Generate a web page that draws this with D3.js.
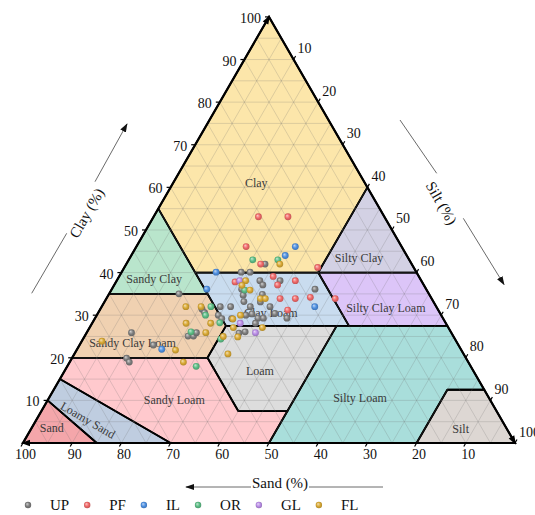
<!DOCTYPE html>
<html>
<head>
<meta charset="utf-8">
<script src="https://cdn.jsdelivr.net/npm/d3@7"></script>
<style>
  html, body { margin: 0; padding: 0; background: #ffffff; }
  svg { display: block; font-family: "Liberation Serif", "Times New Roman", serif; }
</style>
</head>
<body>
<svg id="chart" width="535" height="515"></svg>
<script>
// ---- Samples: [sand %, clay %]; silt is the remainder ----
const UP = [
  [50.8,35.0],[65.0,25.9],[62.0,23.0],[69.0,19.9],[68.9,19.0],[53.9,25.1],[52.8,25.1],[51.8,25.9],
  [35.6,40.1],[33.8,40.1],[29.8,42.0],[32.8,38.1],[28.7,38.1],[32.7,37.1],[37.5,36.1],[22.6,36.1],
  [37.9,34.7],[33.9,34.9],[38.5,33.2],[35.2,33.1],[33.8,32.0],[43.9,32.0],[41.8,32.0],[37.8,32.0],
  [47.9,31.4],[47.8,30.6],[45.3,30.0],[45.0,29.2],[43.0,29.2],[39.7,30.0],[38.3,30.3],[37.6,29.3],
  [36.5,29.3],[38.7,28.1],[41.8,26.1],[43.2,25.8],[33.6,30.4],[31.7,29.3]
];
const PF = [
  [25.6,53.1],[19.6,53.1],[31.6,46.1],[30.7,42.0],[19.5,41.2],[38.0,37.8],[29.6,39.1],
  [25.6,38.1],[29.7,37.1],[30.8,33.9],[27.7,33.9],[24.5,34.2],[19.6,33.9],[30.6,31.2]
];
const IL = [
  [21.6,46.1],[24.7,44.0],[40.7,40.1],[44.6,36.1],[60.8,22.0],[24.7,32.0]
];
const OR = [
  [31.8,43.0],[26.7,43.0],[37.0,35.9],[45.8,32.0],[47.9,30.0],[45.9,28.2],[52.8,26.1],
  [47.6,24.4],[55.8,18.0]
];
const GL = [
  [36.9,38.1],[41.8,28.1],[39.8,25.9]
];
const FL = [
  [26.8,42.0],[35.7,38.1],[37.0,37.0],[35.9,35.9],[34.8,33.9],[33.8,33.9],[50.9,32.0],
  [47.8,32.0],[52.8,28.1],[47.8,28.1],[42.8,29.1],[40.8,30.0],[43.7,27.1],[37.8,27.1],
  [49.9,25.9],[46.8,25.0],[43.9,24.9],[58.1,21.8],[72.0,23.9],[47.9,20.9],[57.9,19.0]
];

const seriesNames  = ["UP", "PF", "IL", "OR", "GL", "FL"];
const seriesData   = [UP, PF, IL, OR, GL, FL];
const seriesColors = ["#7d7d7d", "#f06868", "#4d8fe0", "#5cbd85", "#b98de6", "#d9a934"];

// ---- Axis ticks ----
const sandTicks = [100, 90, 80, 70, 60, 50, 40, 30, 20, 10];
const clayTicks = [10, 20, 30, 40, 50, 60, 70, 80, 90, 100];
const siltTicks = [10, 20, 30, 40, 50, 60, 70, 80, 90, 100];
const gridValues = d3.range(5, 100, 5);

// ---- USDA texture classes, vertices as [sand, silt, clay] ----
const classNames = ["Clay", "Sandy Clay", "Silty Clay", "Clay Loam", "Silty Clay Loam",
  "Sandy Clay Loam", "Loam", "Silty Loam", "Sandy Loam", "Loamy Sand", "Sand", "Silt"];
const classColors = ["#fce6aa", "#b9e5cc", "#d3d1e4", "#c9dcef", "#dcc5f8",
  "#f0d1b1", "#dddddd", "#a9dedb", "#ffc9cd", "#bfcde0", "#f4a6aa", "#ddd7d3"];
const classVertices = [
  [[0,0,100],[0,40,60],[20,40,40],[45,15,40],[45,0,55]],
  [[45,0,55],[45,20,35],[65,0,35]],
  [[0,40,60],[0,60,40],[20,40,40]],
  [[20,40,40],[45,15,40],[45,27.5,27.5],[20,52.5,27.5]],
  [[0,60,40],[20,40,40],[20,52.5,27.5],[0,72.5,27.5]],
  [[45,20,35],[65,0,35],[80,0,20],[52.5,27.5,20],[45,27.5,27.5]],
  [[45,27.5,27.5],[52.5,27.5,20],[52.5,40,7.5],[42.5,50,7.5],[22.5,50,27.5]],
  [[50,50,0],[20,80,0],[7.5,80,12.5],[0,87.5,12.5],[0,72.5,27.5],[20,52.5,27.5],[22.5,50,27.5],[42.5,50,7.5]],
  [[80,0,20],[52.5,27.5,20],[52.5,40,7.5],[42.5,50,7.5],[50,50,0],[70,30,0],[85,0,15]],
  [[85,0,15],[70,30,0],[85,15,0],[90,0,10]],
  [[100,0,0],[85,15,0],[90,0,10]],
  [[20,80,0],[0,100,0],[0,87.5,12.5],[7.5,80,12.5]]
];
// where each class name is written, as [sand, silt, clay], and its rotation
const classLabelAt = [
  [22.1,16.9,61.0],[54.1,7.4,38.5],[10.0,46.6,43.4],[34.4,35.1,30.5],[10.4,57.9,31.7],
  [66.0,10.5,23.5],[43.4,39.7,16.9],[26.2,63.2,10.6],[64.2,25.7,10.1],[84.1,10.5,5.4],
  [92.4,4.1,3.5],[9.4,87.3,3.3]
];
const classLabelAngle = [0,0,0,0,0,0,0,0,0,30,0,0];

// ---- Ternary layout ----
const svg = d3.select("#chart");
const side = 492, left = 23, base = 443;
const tall = side * Math.sqrt(3) / 2;
const xs = d3.scaleLinear().domain([0, 100]).range([left, left + side]);
const ys = d3.scaleLinear().domain([0, 100]).range([base, base - tall]);
const proj = (sand, silt, clay) => [xs(silt + clay / 2), ys(clay)];
const projSC = d => proj(d[0], 100 - d[0] - d[1], d[1]);

const corner = {
  sand: proj(100, 0, 0),
  silt: proj(0, 100, 0),
  clay: proj(0, 0, 100)
};

// gradients for the shaded markers
const defs = svg.append("defs");
seriesColors.forEach((c, i) => {
  const g = defs.append("radialGradient").attr("id", "ball" + i)
    .attr("cx", "50%").attr("cy", "50%").attr("r", "55%")
    .attr("fx", "35%").attr("fy", "32%");
  g.append("stop").attr("offset", "0%").attr("stop-color", d3.interpolateRgb(c, "#ffffff")(0.65));
  g.append("stop").attr("offset", "55%").attr("stop-color", c);
  g.append("stop").attr("offset", "100%").attr("stop-color", d3.color(c).darker(0.7));
});

// class fills
const poly = d3.line();
const regions = svg.append("g");
regions.selectAll("path.fill").data(classVertices).join("path")
  .attr("class", "fill")
  .attr("d", v => poly(v.map(p => proj(...p))) + "Z")
  .attr("fill", (v, i) => classColors[i])
  .attr("stroke", "none");

// 5 % grid in the three directions
const grid = svg.append("g").attr("stroke", "rgba(110,110,110,0.28)").attr("stroke-width", 0.8).attr("fill", "none");
gridValues.forEach(v => {
  const segs = [
    [proj(100 - v, 0, v), proj(0, 100 - v, v)],
    [proj(100 - v, v, 0), proj(0, v, 100 - v)],
    [proj(v, 100 - v, 0), proj(v, 0, 100 - v)]
  ];
  segs.forEach(s => grid.append("path").attr("d", poly(s)));
});

// class boundaries
regions.selectAll("path.edge").data(classVertices).join("path")
  .attr("class", "edge")
  .attr("d", v => poly(v.map(p => proj(...p))) + "Z")
  .attr("fill", "none")
  .attr("stroke", "#000")
  .attr("stroke-width", 1.8)
  .attr("stroke-linejoin", "round");

// outer triangle
svg.append("path")
  .attr("d", poly([corner.sand, corner.silt, corner.clay]) + "Z")
  .attr("fill", "none").attr("stroke", "#000").attr("stroke-width", 2.2)
  .attr("stroke-linejoin", "miter");

// arrowheads at the ends of each axis
function arrowHead(tip, angleDeg, len, halfW) {
  const a = angleDeg * Math.PI / 180;
  const ux = Math.cos(a), uy = Math.sin(a);
  const bx = tip[0] - ux * len, by = tip[1] - uy * len;
  return `M${tip[0]},${tip[1]}L${bx - uy * halfW},${by + ux * halfW}L${bx + uy * halfW},${by - ux * halfW}Z`;
}
const heads = svg.append("g").attr("fill", "#000");
heads.append("path").attr("d", arrowHead([corner.clay[0] + 1, corner.clay[1] - 1.7], -60, 9, 3.2));
heads.append("path").attr("d", arrowHead([corner.silt[0] + 1, corner.silt[1] + 1.7], 60, 9, 3.2));
heads.append("path").attr("d", arrowHead([corner.sand[0] - 2, corner.sand[1]], 180, 9, 3.2));

// ticks and tick labels
const ticks = svg.append("g").attr("stroke", "#000").attr("stroke-width", 1.2);
const tickText = svg.append("g").attr("font-size", 14).attr("fill", "#111");
const c60 = Math.cos(Math.PI / 3), s60 = Math.sin(Math.PI / 3);

sandTicks.forEach(v => {
  const p = proj(v, 100 - v, 0);
  ticks.append("line").attr("x1", p[0]).attr("y1", p[1]).attr("x2", p[0] - 4 * c60).attr("y2", p[1] + 4 * s60);
  tickText.append("text").attr("x", p[0] + 2.5).attr("y", p[1] + 16)
    .attr("text-anchor", "middle").text(v);
});
clayTicks.forEach(v => {
  const p = proj(0, 100 - v, v).map((d, i) => i === 0 ? xs(v / 2) : d);
  ticks.append("line").attr("x1", p[0]).attr("y1", p[1]).attr("x2", p[0] - 4).attr("y2", p[1]);
  tickText.append("text").attr("x", p[0] - 8).attr("y", p[1] + 6)
    .attr("text-anchor", "end").text(v);
});
siltTicks.forEach(v => {
  const p = proj(0, v, 100 - v);
  ticks.append("line").attr("x1", p[0]).attr("y1", p[1]).attr("x2", p[0] + 4 * c60).attr("y2", p[1] - 4 * s60);
  tickText.append("text").attr("x", p[0] + 4).attr("y", p[1] - 6.5)
    .attr("text-anchor", "start").text(v);
});

// class names
const labels = svg.append("g").attr("font-size", 12).attr("fill", "#3a3a3a").attr("text-anchor", "middle");
classNames.forEach((name, i) => {
  const p = proj(...classLabelAt[i]);
  labels.append("text")
    .attr("transform", `translate(${p[0]},${p[1]}) rotate(${classLabelAngle[i]})`)
    .attr("dy", "0.35em")
    .text(name);
});

// axis titles with direction arrows
defs.append("marker").attr("id", "tip").attr("viewBox", "0 0 10 10")
  .attr("refX", 9).attr("refY", 5).attr("markerWidth", 9).attr("markerHeight", 9)
  .attr("markerUnits", "userSpaceOnUse").attr("orient", "auto")
  .append("path").attr("d", "M0,1.5L10,5L0,8.5Z").attr("fill", "#111");

const titles = svg.append("g").attr("font-size", 15).attr("fill", "#111");
const guide = svg.append("g").attr("stroke", "#444").attr("stroke-width", 0.8).attr("fill", "none");

// Clay (%)
guide.append("line").attr("x1", 31.7).attr("y1", 293.3).attr("x2", 66.7).attr("y2", 233.3);
guide.append("line").attr("x1", 95).attr("y1", 181.7).attr("x2", 127).attr("y2", 124).attr("marker-end", "url(#tip)");
titles.append("text").attr("transform", "translate(86.5,213) rotate(-60)")
  .attr("text-anchor", "middle").attr("dy", "0.35em").text("Clay (%)");

// Silt (%)
guide.append("line").attr("x1", 400).attr("y1", 120).attr("x2", 436.7).attr("y2", 173.3);
guide.append("line").attr("x1", 463.3).attr("y1", 218.3).attr("x2", 504).attr("y2", 284.5).attr("marker-end", "url(#tip)");
titles.append("text").attr("transform", "translate(441.5,203) rotate(60)")
  .attr("text-anchor", "middle").attr("dy", "0.35em").text("Silt (%)");

// Sand (%)
guide.append("line").attr("x1", 383).attr("y1", 487).attr("x2", 309).attr("y2", 487);
guide.append("line").attr("x1", 251).attr("y1", 487).attr("x2", 186).attr("y2", 487).attr("marker-end", "url(#tip)");
titles.append("text").attr("x", 280).attr("y", 488).attr("text-anchor", "middle").text("Sand (%)");

// samples
const pts = svg.append("g");
seriesData.forEach((rows, i) => {
  pts.append("g").selectAll("circle").data(rows).join("circle")
    .attr("cx", d => projSC(d)[0])
    .attr("cy", d => projSC(d)[1])
    .attr("r", 3.4)
    .attr("fill", `url(#ball${i})`);
});

// legend
const legend = svg.append("g").attr("font-size", 15).attr("fill", "#111");
let lx = 28;
seriesNames.forEach((name, i) => {
  legend.append("circle").attr("cx", lx).attr("cy", 505).attr("r", 3.2).attr("fill", `url(#ball${i})`);
  const t = legend.append("text").attr("x", lx + 22).attr("y", 510).text(name);
  lx += 22 + t.node().getComputedTextLength() + 18;
});
</script>
</body>
</html>
